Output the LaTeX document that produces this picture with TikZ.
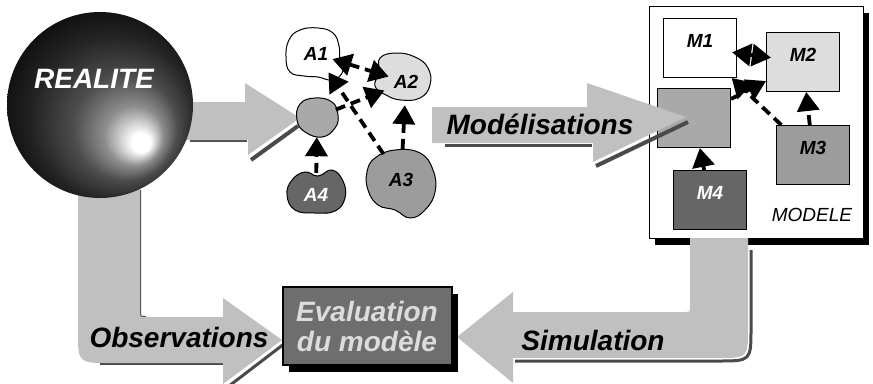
\documentclass[tikz,border=0pt]{standalone}
\usepackage{fontspec}
\setmainfont{Liberation Sans}
\usetikzlibrary{arrows.meta, positioning, calc, shadows}
\definecolor{FlowGray}{HTML}{C0C0C0}
\definecolor{FlowEdge}{HTML}{4A4A4A}
\definecolor{PaleGray}{HTML}{DDDDDD}
\definecolor{MidGray}{HTML}{A9A9A9}
\definecolor{StoneGray}{HTML}{9C9C9C}
\definecolor{DarkGray}{HTML}{666666}
\definecolor{EvalGray}{HTML}{6E6E6E}
\definecolor{EvalText}{HTML}{DCDCDC}
\newcommand{\flowfont}{\fontsize{28}{30}\selectfont\bfseries\itshape}
\newcommand{\partfont}{\fontsize{19}{22}\selectfont\bfseries\itshape}
\pgfdeclareradialshading{realball}{\pgfpoint{12bp}{-11bp}}{%
    color(0bp)=(white); color(2.5bp)=(white);
    color(8bp)=(black!45); color(14bp)=(black!70);
    color(22bp)=(black!86); color(32bp)=(black)}
\tikzset{
    flow/.style={
        fill=FlowGray,
        draw=none
    },
    flowedge/.style={
        draw=FlowEdge,
        line width=#1
    },
    flowedge/.default=3pt,
    blob/.style={
        draw=black,
        line width=1pt,
        fill=#1
    },
    spot/.style={
        circle,
        minimum size=#1,
        inner sep=0pt,
        font=\partfont
    },
    mbox/.style={
        draw=black,
        line width=1pt,
        fill=#1,
        minimum width=73,
        minimum height=59,
        inner sep=0pt,
        text depth=15pt,
        font=\partfont
    },
    link/.style={
        line width=3.8pt,
        dash pattern=on 10pt off 6pt,
        -{Triangle[length=19pt,width=22pt]}
    },
    dlink/.style={
        link,
        {Triangle[length=19pt,width=22pt]}-{Triangle[length=19pt,width=22pt]},
        shorten <=-5pt, shorten >=-5pt
    },
    boxshadow/.style={
        drop shadow={shadow xshift=6pt, shadow yshift=-7pt, fill=black, opacity=1}
    }
}

\begin{document}
\begin{tikzpicture}[x=1pt, y=-1pt]
    \useasboundingbox (0,0) rectangle (873,383);

    % Observations flow
    \draw[flowedge=2pt] (140,190) -- (140,311) .. controls (140,317) .. (146,317);
    \draw[flowedge=2pt] (100,364) -- (223,364);
    \draw[flowedge] (229,386) -- (284,344);
    \fill[flow] (78,180) -- (78,331) .. controls (78,363) .. (110,363) -- (223,363)
        -- (223,384) -- (282,340) -- (223,298) -- (223,317) -- (146,317)
        .. controls (140,317) .. (140,311) -- (140,180) -- cycle;
    \node[font=\flowfont] (obs) at (179,337) {Observations};

    % Upper flow to the actors
    \draw[flowedge=2pt] (190,141) -- (247,141);
    \draw[flowedge=4pt] (251,160) -- (298,126);
    \fill[flow] (175,102) -- (245,102) -- (245,83) -- (300,118) -- (248,155)
        -- (248,140) -- (175,140) -- cycle;

    % Reality
    \node[circle, minimum size=186, inner sep=0pt, shading=realball,
        label={[text=white, font=\flowfont, yshift=26pt, xshift=-6pt]center:REALITE}]
        (realite) at (100,105) {};

    % Actors
    \draw[blob=white] plot[smooth cycle, tension=0.75] coordinates {
        (289,40) (300,30) (318,28) (333,33) (339,46) (340,60) (343,71) (333,80)
        (318,77) (304,76) (290,72) (286,57)};
    \draw[blob=PaleGray] plot[smooth cycle, tension=0.75] coordinates {
        (380,58) (396,53) (415,57) (428,68) (430,85) (420,98) (401,100)
        (386,95) (375,86) (379,72)};
    \draw[blob=MidGray] plot[smooth cycle, tension=0.75] coordinates {
        (300,104) (315,98) (332,102) (338,115) (335,128) (322,137) (305,132)
        (297,120)};
    \draw[blob=DarkGray] plot[smooth cycle, tension=0.75] coordinates {
        (292,180) (305,172) (318,176) (332,170) (343,181) (345,198) (335,211)
        (315,213) (295,210) (287,195)};
    \draw[blob=StoneGray] plot[smooth cycle, tension=0.75] coordinates {
        (375,158) (395,150) (420,153) (433,170) (435,192) (425,210) (410,218)
        (395,210) (378,205) (368,190) (367,172)};
    \node[spot=44] (a1) at (316,54) {A1};
    \node[spot=46] (a2) at (406,82) {A2};
    \node[spot=40] (ac) at (317,117) {};
    \node[spot=62] (a3) at (401,180) {A3};
    \node[spot=44, text=white] (a4) at (316,195) {A4};

    \draw[dlink] (a1) -- (a2);
    \draw[link] (a3) -- (a1);
    \draw[link] (ac) -- (a2);
    \draw[link] (a3) -- (a2);
    \draw[link] (a4) -- (ac);

    % Model
    \node[draw=black, line width=1pt, fill=white, minimum width=214, minimum height=232,
        boxshadow] (modele) at (756,122) {};
    \node[font=\fontsize{19}{22}\selectfont\itshape] (modeletxt) at (812,215) {MODELE};
    \node[mbox=white] (m1) at (700,48) {M1};
    \node[mbox=PaleGray] (m2) at (803,62) {M2};
    \node[mbox=MidGray] (mc) at (694,118) {};
    \node[mbox=StoneGray] (m3) at (813,155) {M3};
    \node[mbox=DarkGray, text=white] (m4) at (710,200) {M4};

    % Modelisations flow
    \draw[flowedge] (445,145) -- (592,145);
    \draw[flowedge=4pt] (596,166) -- (688,122);
    \fill[flow] (432,107) -- (587,107) -- (587,83) -- (686,117) -- (593,162)
        -- (593,143) -- (432,143) -- cycle;
    \node[font=\flowfont] (modtxt) at (540,124) {Modélisations};

    \draw[dlink] (m1) -- (m2);
    \draw[link] (m3) -- (m1);
    \draw[link] (mc) -- (m2);
    \draw[link] (m3) -- (m2);
    \draw[link] (m4) -- (mc);

    % Simulation flow
    \draw[flowedge] (751,250) -- (751,328) .. controls (751,361) .. (718,361) -- (515,361);
    \fill[flow] (690,238) -- (690,306) .. controls (690,312) .. (684,312) -- (513,312)
        -- (513,292) -- (457,337) -- (513,383) -- (513,358) -- (718,358)
        .. controls (748,358) .. (748,328) -- (748,238) -- cycle;
    \node[font=\flowfont] (simtxt) at (593,340) {Simulation};

    % Evaluation
    \node[draw=black, line width=2pt, fill=EvalGray, minimum width=169, minimum height=78,
        text=EvalText, font=\flowfont, align=center, boxshadow] (eval) at (367,326)
        {Evaluation\\du modèle};
\end{tikzpicture}
\end{document}
